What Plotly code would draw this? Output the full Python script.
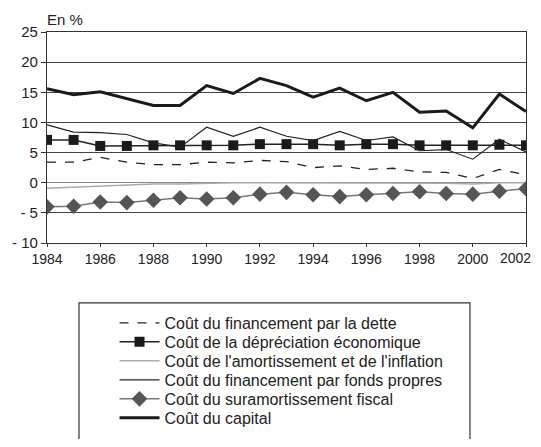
import plotly.graph_objects as go

# Années et séries (en %)
annees = list(range(1984, 2003))

cout_dette = [3.4, 3.4, 4.2, 3.4, 3.0, 3.0, 3.4, 3.3, 3.7, 3.5, 2.5, 2.8, 2.2, 2.4, 1.8, 1.7, 0.7, 2.2, 1.3]
cout_depreciation = [7.1, 7.1, 6.1, 6.1, 6.2, 6.2, 6.2, 6.2, 6.4, 6.4, 6.4, 6.2, 6.4, 6.4, 6.2, 6.2, 6.2, 6.3, 6.2]
cout_amort_inflation = [-0.9, -0.7, -0.5, -0.3, -0.2, -0.2, -0.05, 0.0, 0.0, 0.0, 0.0, 0.0, 0.0, 0.0, 0.0, -0.1, -0.2, 0.0, 0.0]
cout_fonds_propres = [9.6, 8.4, 8.3, 8.0, 6.6, 5.9, 9.2, 7.7, 9.2, 7.7, 7.0, 8.5, 7.0, 7.6, 5.3, 5.5, 3.9, 7.2, 5.1]
cout_suramort = [-4.0, -3.9, -3.2, -3.3, -2.9, -2.5, -2.7, -2.5, -1.9, -1.6, -2.0, -2.3, -2.0, -1.8, -1.5, -1.8, -1.9, -1.4, -1.0]
cout_capital = [15.6, 14.6, 15.1, 14.0, 12.8, 12.8, 16.1, 14.8, 17.3, 16.1, 14.2, 15.7, 13.6, 15.0, 11.7, 11.9, 9.1, 14.7, 11.8]

y_ticks = [25, 20, 15, 10, 5, 0, -5, -10]
y_labels = ["25", "20", "15", "10", "5", "0", "- 5", "- 10"]
x_ticks = list(range(1984, 2003, 2))
# le dernier libellé est posé à part pour ne pas être coupé au bord
x_labels = [str(a) for a in x_ticks[:-1]] + [""]

fig = go.Figure()

# chaque série a sa propre légende pour régler l'interligne
fig.add_trace(go.Scatter(x=annees, y=cout_dette, mode="lines",
                         name="Coût du financement par la dette", legend="legend",
                         line=dict(color="#222222", width=1.3, dash="dash")))
fig.add_trace(go.Scatter(x=annees, y=cout_depreciation, mode="lines+markers",
                         name="Coût de la dépréciation économique", legend="legend2",
                         line=dict(color="#222222", width=1.5),
                         marker=dict(symbol="square", size=10, color="#1a1a1a")))
fig.add_trace(go.Scatter(x=annees, y=cout_amort_inflation, mode="lines",
                         name="Coût de l'amortissement et de l'inflation", legend="legend3",
                         line=dict(color="#aaaaaa", width=1.5)))
fig.add_trace(go.Scatter(x=annees, y=cout_fonds_propres, mode="lines",
                         name="Coût du financement par fonds propres", legend="legend4",
                         line=dict(color="#222222", width=1.2)))
fig.add_trace(go.Scatter(x=annees, y=cout_suramort, mode="lines+markers",
                         name="Coût du suramortissement fiscal", legend="legend5",
                         line=dict(color="#777777", width=1.5),
                         marker=dict(symbol="diamond", size=12, color="#555555")))
fig.add_trace(go.Scatter(x=annees, y=cout_capital, mode="lines",
                         name="Coût du capital", legend="legend6",
                         line=dict(color="#1a1a1a", width=3)))

# cadre de la légende (déborde en bas comme l'original)
fig.add_shape(type="rect", xref="paper", yref="paper",
              x0=0.0668, x1=0.883, y0=-1.05, y1=-0.284,
              line=dict(color="#333333", width=1.2), layer="below")

fig.add_annotation(text="En %", xref="paper", yref="paper", x=-0.004, y=1.0,
                   xanchor="left", yanchor="bottom", yshift=2, showarrow=False,
                   font=dict(size=15, color="#222222"))

fig.add_annotation(text=str(x_ticks[-1]), xref="x", yref="paper", x=x_ticks[-1], y=0,
                   xanchor="right", yanchor="top", xshift=7, yshift=-5, showarrow=False,
                   font=dict(size=14, color="#222222"))

legend_y = [-0.379, -0.469, -0.559, -0.649, -0.739, -0.829]
legend_style = dict(x=0.141, xanchor="left", yanchor="middle",
                    bgcolor="rgba(0,0,0,0)", borderwidth=0,
                    font=dict(size=16), itemwidth=40)
legends = {}
for i, ly in enumerate(legend_y):
    key = "legend" if i == 0 else "legend%d" % (i + 1)
    legends[key] = dict(legend_style, y=ly)

fig.update_layout(
    # la page ajoute 8 px de marge : figure réduite pour éviter les barres de défilement
    width=525, height=431,
    margin=dict(l=39, r=7, t=24, b=196, autoexpand=False),
    paper_bgcolor="white", plot_bgcolor="white",
    font=dict(family="Liberation Sans, Arial, sans-serif", size=15, color="#222222"),
    showlegend=True,
    **legends,
)
fig.update_xaxes(range=[1984, 2002], tickvals=x_ticks, ticktext=x_labels,
                 showgrid=False, zeroline=False,
                 showline=True, linecolor="#333333", linewidth=1.2, mirror=True,
                 ticks="outside", ticklen=3, tickcolor="#333333", automargin=False,
                 tickfont=dict(size=14))
fig.update_yaxes(range=[-10, 25], tickvals=y_ticks, ticktext=y_labels,
                 showgrid=True, gridcolor="#444444", gridwidth=1,
                 zeroline=True, zerolinecolor="#888888", zerolinewidth=1.2,
                 showline=True, linecolor="#333333", linewidth=1.2, mirror=True,
                 ticks="outside", ticklen=5, tickcolor="#333333", automargin=False,
                 tickfont=dict(size=15))

fig.write_html("out.html")
